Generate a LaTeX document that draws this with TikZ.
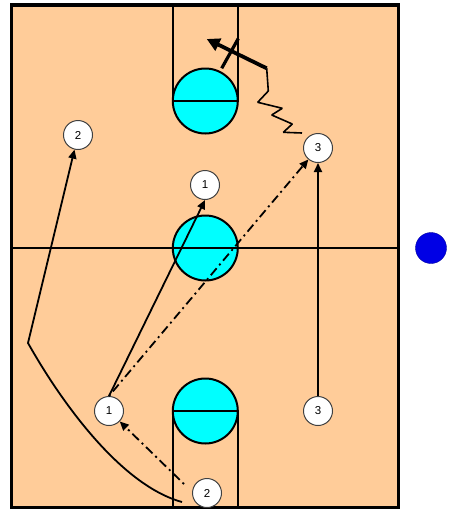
\documentclass[tikz,border=0pt]{standalone}
\usepackage{fontspec}
\setmainfont{Liberation Sans}
\usetikzlibrary{arrows.meta}
\begin{document}
\begin{tikzpicture}[x=1pt,y=-1pt,
    player/.style={circle,draw=black!75,fill=white,line width=1pt,
      minimum size=29pt,inner sep=0pt,font=\fontsize{11.5}{11.5}\selectfont},
    move/.style={line width=1.8pt,-{Triangle[length=9pt,width=8pt]}},
    pass/.style={move,dash pattern=on 2pt off 4pt on 9pt off 4pt},
    hoop/.style={draw=black,fill=kCyan,line width=2pt}]
  % colors
  \definecolor{kCourt}{rgb}{1.0,0.8,0.6}
  \definecolor{kCyan}{rgb}{0.0,1.0,1.0}
  \definecolor{kBlue}{rgb}{0.0,0.0,0.9}
  \useasboundingbox (0,0) rectangle (448,509);
  % court
  \draw[line width=3.5pt,fill=kCourt] (11.3,5) rectangle (398.7,507.3);
  \draw[line width=2pt] (173,5) -- (173,101) (237.5,5) -- (237.5,101);
  \draw[line width=2pt] (173,411) -- (173,507.3) (237.5,411) -- (237.5,507.3);
  \foreach \y in {101,248,411} {
    \draw[hoop] (205.3,\y) circle (32.5);
    \draw[line width=2.2pt] (172.8,\y) -- (237.8,\y);
  };
  \draw[line width=2.8pt] (11.3,248) -- (398.7,248);
  \node[circle,fill=kBlue,draw=kBlue!70!black,minimum size=31pt,inner sep=0pt] (ball) at (431,248) {};

  % players
  \foreach \n/\x/\y/\t in {p2top/78/135/2, p1top/205/185/1, p3top/318/148/3,
                          p1bot/109/411/1, p3bot/318/411/3, p2bot/207/493/2} {
    \node[player] (\n) at (\x,\y) {\t};
  };

  % moves and passes
  \coordinate (cut) at (28,343);
  \coordinate (c2) at (182,502);
  \coordinate (d2) at (184,484);
  \coordinate (d0) at (302,133);
  \coordinate (sc) at (266.7,68.3);
  \draw[move] (p1bot.north) -- (p1top.south);
  \draw[pass] (p1bot.north) -- (p3top);
  \draw[move] (p3bot) -- (p3top);
  \draw[move] (c2) .. controls (120,485) and (60,400) .. (cut) -- (p2top);
  \draw[pass] (d2) -- (p1bot);

  % dribble and screen
  \draw[line width=1.6pt,line join=bevel] (d0) -- (283.3,132.3) -- (292.3,124)
    -- (271.7,115) -- (282.3,108.3) -- (257.7,102.3) -- (268.3,91) -- (sc);
  \draw[line width=3.8pt,-{Triangle[length=13pt,width=13pt]}] (sc) -- (206.7,39);
  \draw[line width=3.2pt] (221.7,68.3) -- (238.3,38.5);
\end{tikzpicture}
\end{document}
